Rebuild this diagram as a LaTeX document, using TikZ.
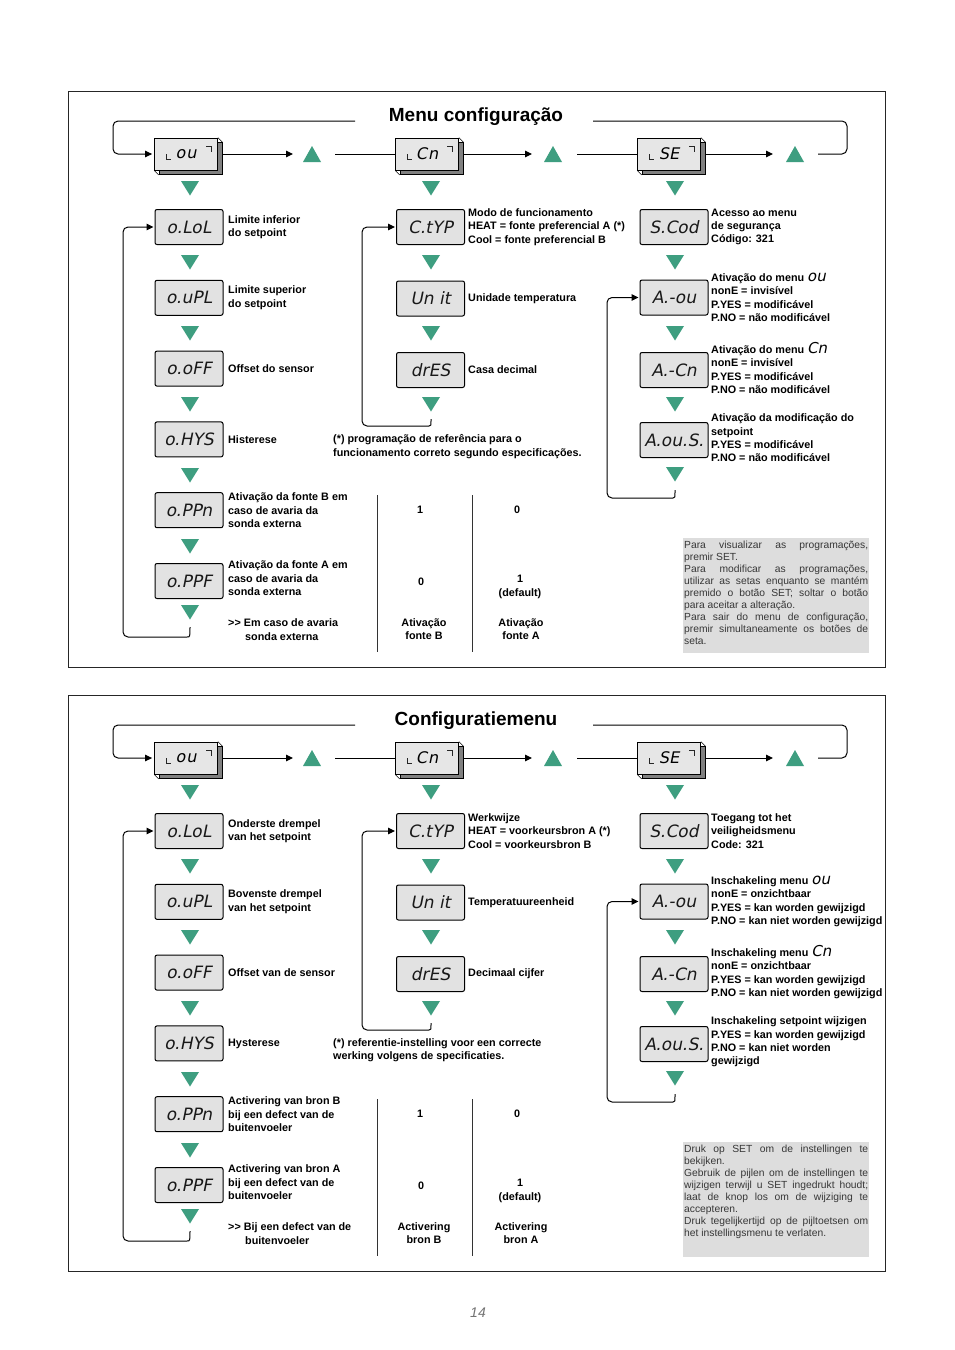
\documentclass[tikz,border=0pt]{standalone}
\usepackage{fontspec}
\setmainfont{Liberation Sans}
\newfontfamily\segf[FakeSlant=0.2]{DejaVu Sans}
\usetikzlibrary{calc,arrows.meta,shadows}
\definecolor{tri}{RGB}{62,158,128}
\definecolor{dispfill}{RGB}{226,226,226}
\definecolor{hfill}{RGB}{230,230,230}
\definecolor{notefill}{RGB}{221,221,221}
\definecolor{notetext}{RGB}{55,55,55}
\newcommand\sg[1]{{\segf\mdseries\fontsize{15}{10}\selectfont #1}}
\tikzset{
  frame/.style={draw=black!85, line width=0.9pt},
  ttl/.style={font=\bfseries\fontsize{19}{22}\selectfont, inner sep=0pt},
  conn/.style={draw=black, line width=1pt},
  arr/.style={conn, -{Triangle[length=7pt,width=6.5pt]}},
  disp/.style={draw=black, line width=1pt, fill=dispfill, rounded corners=2pt,
    minimum width=68pt, minimum height=35pt, inner sep=0pt,
    font=\segf\fontsize{17}{17}\selectfont, text=black!90},
  hdisp/.style={draw=black, line width=0.8pt, fill=hfill, minimum width=63pt,
    minimum height=32pt, inner sep=0pt, font=\segf\fontsize{16}{16}\selectfont,
    general shadow={fill=black!50, draw=black, line width=0.6pt, shadow xshift=4.5pt, shadow yshift=-4.5pt}},
  cornermark/.style={draw=black!85, line width=1pt},
  lbl/.style={anchor=west, align=left, inner sep=0pt, font=\bfseries\fontsize{10.8}{13.4}\selectfont},
  tbl/.style={align=center, inner sep=0pt, font=\bfseries\fontsize{10.8}{13.4}\selectfont},
  tline/.style={draw=black!80, line width=0.9pt},
  note/.style={anchor=north west, text width=184pt, inner xsep=1pt, inner ysep=2pt,
    align=justify, font=\fontsize{10.3}{12.05}\selectfont, text=notetext,
    execute at begin node={\tolerance=10000\hbadness=10000}},
  tdown/.pic={\fill[tri] (-9,-7) -- (9,-7) -- (0,7.5) -- cycle;},
  tup/.pic={\fill[tri] (-9,8) -- (9,8) -- (0,-8) -- cycle;}
}
\newcommand\Panel[1]{%
  \draw[frame] (68.5,91.5) rectangle (885.5,667.5);
  \node[ttl] (#1title) at (476,117) {\TTitle};
  % header row
  \node[hdisp] (#1lou) at (186,154) {\raisebox{-2pt}{o\kern1pt u}};
  \node[hdisp] (#1lcn) at (427,154) {\raisebox{-1pt}{C\kern1pt n}};
  \node[hdisp] (#1lse) at (669,154) {\raisebox{-1pt}{SE}};
  \foreach \nn in {#1lou,#1lcn,#1lse}{
    \draw[black, line width=0.6pt] (\nn.north east) -- ++(4.5,4.5);
    \draw[black, line width=0.6pt] (\nn.south west) -- ++(4.5,4.5);
    \draw[cornermark] ($(\nn.center)+(-20,0)$) -- ++(0,5) -- ++(5,0);
    \draw[cornermark] ($(\nn.center)+(20,-8)$) -- ++(5,0) -- ++(0,6);
  }
  \coordinate (#1a1) at (293,154); \coordinate (#1b1) at (335,154);
  \coordinate (#1a2) at (532,154); \coordinate (#1b2) at (577,154);
  \coordinate (#1a3) at (773,154); \coordinate (#1b3) at (818,154);
  \coordinate (#1tl) at (355,121); \coordinate (#1tr) at (593,121);
  \draw[arr] ($(#1lou.east)+(5,0)$) -- (#1a1);
  \draw[conn] (#1b1) -- (#1lcn.west);
  \draw[arr] ($(#1lcn.east)+(5,0)$) -- (#1a2);
  \draw[conn] (#1b2) -- (#1lse.west);
  \draw[arr] ($(#1lse.east)+(5,0)$) -- (#1a3);
  \draw[conn, rounded corners=5pt] (#1b3) -- (847,154) -- (847,121) -- (#1tr);
  \draw[arr, rounded corners=5pt] (#1tl) -- (113,121) -- (113,154) -- ($(#1lou.west)+(-2,0)$);
  \pic at (312,154) {tup}; \pic at (553,154) {tup}; \pic at (795,154) {tup};
  \pic at (190,188) {tdown}; \pic at (431,188) {tdown}; \pic at (675,188) {tdown};
  % left column
  \node[disp] (#1lol) at (189,227) {o.LoL};
  \node[disp] (#1upl) at (189,297.8) {o.uPL};
  \node[disp] (#1off) at (189,368.6) {o.oFF};
  \node[disp] (#1hys) at (189,439.4) {o.HYS};
  \node[disp] (#1ppn) at (189,510.2) {o.PPn};
  \node[disp] (#1ppf) at (189,581) {o.PPF};
  \foreach \yy in {262,333,404,475,546,612} \pic at (190,\yy) {tdown};
  \node[lbl] (#1llol) at (228,227) {\TLoL};
  \node[lbl] (#1lupl) at (228,297.8) {\TuPL};
  \node[lbl] (#1loff) at (228,368.6) {\ToFF};
  \node[lbl] (#1lhys) at (228,439.4) {\THYS};
  \node[lbl] (#1lppn) at (228,510.5) {\TPPn};
  \node[lbl] (#1lppf) at (228,578.5) {\TPPF};
  \node[lbl] (#1lfoot) at (228,629.5) {\TFoot};
  \coordinate (#1le) at (190,627);
  \draw[arr, rounded corners=5pt] (#1le) .. controls (190,637) .. (182,637) -- (123,637) -- (123,227) -- ($(#1lol.west)+(-1,0)$);
  % middle column
  \node[disp] (#1ctyp) at (430.5,227) {C.tYP};
  \node[disp] (#1unit) at (430.5,298.5) {Un it};
  \node[disp] (#1dres) at (430.5,370) {drES};
  \foreach \yy in {262,333,404} \pic at (431,\yy) {tdown};
  \node[lbl] (#1lctyp) at (468,227) {\TCtyp};
  \node[lbl] (#1lunit) at (468,298.5) {\TUnit};
  \node[lbl] (#1ldres) at (468,370) {\TdrES};
  \node[lbl] (#1lstar) at (333,446.5) {\TStar};
  \coordinate (#1me) at (431,419);
  \draw[arr, rounded corners=5pt] (#1me) .. controls (431,426) .. (424,426) -- (362,426) -- (362,227) -- ($(#1ctyp.west)+(-1,0)$);
  % right column
  \node[disp] (#1scod) at (674,227) {S.Cod};
  \node[disp] (#1aou) at (674,297.5) {A.-ou};
  \node[disp] (#1acn) at (674,370) {A.-Cn};
  \node[disp] (#1aous) at (674,440) {A.ou.S.};
  \foreach \yy in {262,333,404,474} \pic at (675,\yy) {tdown};
  \node[lbl] (#1lscod) at (711,227) {\TScod};
  \node[lbl] (#1laou) at (711,297.5) {\TAou};
  \node[lbl] (#1lacn) at (711,368) {\TACn};
  \node[lbl] (#1laous) at (711,438) {\TAouS};
  \coordinate (#1re) at (675,490);
  \draw[arr, rounded corners=5pt] (#1re) .. controls (675,498) .. (668,498) -- (607,498) -- (607,297.5) -- ($(#1aou.west)+(-1,0)$);
  % table
  \coordinate (#1v1t) at (377,495); \coordinate (#1v1b) at (377,652);
  \coordinate (#1v2t) at (472,495); \coordinate (#1v2b) at (472,652);
  \draw[tline] (#1v1t) -- (#1v1b);
  \draw[tline] (#1v2t) -- (#1v2b);
  \node[tbl] (#1t11) at (420,510) {1};
  \node[tbl] (#1t12) at (517,510) {0};
  \node[tbl] (#1t21) at (421,582) {0};
  \node[tbl] (#1t22) at (520,587) {1\\(default)};
  \node[tbl] (#1t31) at (424,629) {\TTabB};
  \node[tbl] (#1t32) at (521,629) {\TTabA};
  % note
  \fill[notefill] (683,537.5) rectangle (869,652.5);
  \node[note] (#1note) at (683,538.5) {\noindent\TNote};
}
\begin{document}
\begin{tikzpicture}[x=1pt,y=-1pt]
\useasboundingbox[fill=white] (0,0) rectangle (954,1350);
% ---------- panel 1 ----------
\def\TTitle{Menu configuração}
\def\TLoL{Limite inferior\\do setpoint}
\def\TuPL{Limite superior\\do setpoint}
\def\ToFF{Offset do sensor}
\def\THYS{Histerese}
\def\TPPn{Ativação da fonte B em\\caso de avaria da\\sonda externa}
\def\TPPF{Ativação da fonte A em\\caso de avaria da\\sonda externa}
\def\TFoot{>{}> Em caso de avaria\\\hspace*{17pt}sonda externa}
\def\TCtyp{Modo de funcionamento\\HEAT = fonte preferencial A (*)\\Cool = fonte preferencial B}
\def\TUnit{Unidade temperatura}
\def\TdrES{Casa decimal}
\def\TStar{(*) programação de referência para o\\funcionamento correto segundo especificações.}
\def\TScod{Acesso ao menu\\de segurança\\Código: 321}
\def\TAou{Ativação do menu \sg{ou}\\nonE = invisível\\P.YES = modificável\\P.NO = não modificável}
\def\TACn{Ativação do menu \sg{Cn}\\nonE = invisível\\P.YES = modificável\\P.NO = não modificável}
\def\TAouS{Ativação da modificação do\\setpoint\\P.YES = modificável\\P.NO = não modificável}
\def\TTabB{Ativação\\fonte B}
\def\TTabA{Ativação\\fonte A}
\def\TNote{Para visualizar as programações,\linebreak premir SET.\newline Para modificar as programações,\linebreak utilizar as setas enquanto se mantém\linebreak premido o botão SET; soltar o botão\linebreak para aceitar a alteração.\newline Para sair do menu de configuração,\linebreak premir simultaneamente os botões de\linebreak seta.}
\begin{scope}
\Panel{p}
\end{scope}
% ---------- panel 2 ----------
\def\TTitle{Configuratiemenu}
\def\TLoL{Onderste drempel\\van het setpoint}
\def\TuPL{Bovenste drempel\\van het setpoint}
\def\ToFF{Offset van de sensor}
\def\THYS{Hysterese}
\def\TPPn{Activering van bron B\\bij een defect van de\\buitenvoeler}
\def\TPPF{Activering van bron A\\bij een defect van de\\buitenvoeler}
\def\TFoot{>{}> Bij een defect van de\\\hspace*{17pt}buitenvoeler}
\def\TCtyp{Werkwijze\\HEAT = voorkeursbron A (*)\\Cool = voorkeursbron B}
\def\TUnit{Temperatuureenheid}
\def\TdrES{Decimaal cijfer}
\def\TStar{(*) referentie-instelling voor een correcte\\werking volgens de specificaties.}
\def\TScod{Toegang tot het\\veiligheidsmenu\\Code: 321}
\def\TAou{Inschakeling menu \sg{ou}\\nonE = onzichtbaar\\P.YES = kan worden gewijzigd\\P.NO = kan niet worden gewijzigd}
\def\TACn{Inschakeling menu \sg{Cn}\\nonE = onzichtbaar\\P.YES = kan worden gewijzigd\\P.NO = kan niet worden gewijzigd}
\def\TAouS{Inschakeling setpoint wijzigen\\P.YES = kan worden gewijzigd\\P.NO = kan niet worden\\gewijzigd}
\def\TTabB{Activering\\bron B}
\def\TTabA{Activering\\bron A}
\def\TNote{Druk op SET om de instellingen te\linebreak bekijken.\newline Gebruik de pijlen om de instellingen te\linebreak wijzigen terwijl u SET ingedrukt houdt;\linebreak laat de knop los om de wijziging te\linebreak accepteren.\newline Druk tegelijkertijd op de pijltoetsen om\linebreak het instellingsmenu te verlaten.}
\begin{scope}[shift={(0,604)}]
\Panel{q}
\end{scope}
\node[font=\itshape\fontsize{14}{16}\selectfont, text=black!55] (pagenum) at (478,1313) {14};
\end{tikzpicture}
\end{document}
